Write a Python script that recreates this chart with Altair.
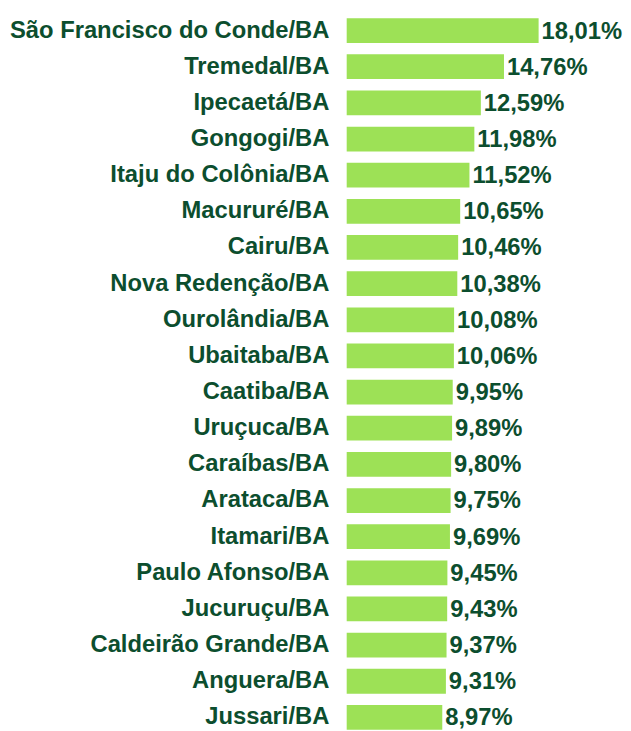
import altair as alt
import pandas as pd

municipios = [
    "São Francisco do Conde/BA", "Tremedal/BA", "Ipecaetá/BA", "Gongogi/BA",
    "Itaju do Colônia/BA", "Macururé/BA", "Cairu/BA", "Nova Redenção/BA",
    "Ourolândia/BA", "Ubaitaba/BA", "Caatiba/BA", "Uruçuca/BA", "Caraíbas/BA",
    "Arataca/BA", "Itamari/BA", "Paulo Afonso/BA", "Jucuruçu/BA",
    "Caldeirão Grande/BA", "Anguera/BA", "Jussari/BA",
]
valores = [18.01, 14.76, 12.59, 11.98, 11.52, 10.65, 10.46, 10.38, 10.08, 10.06,
           9.95, 9.89, 9.80, 9.75, 9.69, 9.45, 9.43, 9.37, 9.31, 8.97]

df = pd.DataFrame({"municipio": municipios, "valor": valores})

TEXT = "#0c4e2e"
BAR = "#9de156"
FONT = "Liberation Sans"

y = alt.Y("municipio:N", sort=municipios, title=None,
          scale=alt.Scale(paddingInner=0.315, paddingOuter=0.1575),
          axis=alt.Axis(ticks=False, tickSize=0, domain=False, labelPadding=18,
                        labelFont=FONT, labelFontSize=24, labelFontWeight="bold",
                        labelColor=TEXT, labelLimit=400))
x = alt.X("valor:Q", title=None, scale=alt.Scale(domain=[0, 25], nice=False),
          axis=None)

base = alt.Chart(df).encode(x=x, y=y)

bars = base.mark_bar(color=BAR)
labels = base.mark_text(align="left", baseline="middle", dx=3, dy=1, font=FONT,
                        fontSize=24, fontWeight="bold", color=TEXT).transform_calculate(
    rotulo="replace(format(datum.valor, '.2f'), '.', ',') + '%'"
).encode(text="rotulo:N")

chart = (bars + labels).properties(
    width=269, height=730,
    autosize=alt.AutoSizeParams(type="none"),
    padding={"left": 342, "top": 1, "right": 10, "bottom": 0},
).configure_view(stroke=None).configure_axis(grid=False)

chart.save("out.html", embed_options={"renderer": "svg", "actions": False})
